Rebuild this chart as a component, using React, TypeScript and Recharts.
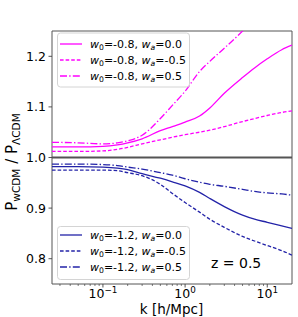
import React from "react";
import { LineChart, Line, XAxis, YAxis, ReferenceLine, ReferenceArea } from "recharts";

// wavenumber grid [h/Mpc]
const kValues = [0.024, 0.05, 0.1, 0.15, 0.2, 0.3, 0.5, 0.7, 1, 1.5, 2, 3, 5, 7, 10, 15, 20];

// P_wCDM / P_LCDM at z = 0.5
const ratioW08Wa00 = [1.021, 1.021, 1.022, 1.025, 1.029, 1.037, 1.053, 1.061, 1.07, 1.082, 1.098, 1.127, 1.158, 1.177, 1.195, 1.213, 1.222];
const ratioW08WaM05 = [1.012, 1.012, 1.013, 1.016, 1.02, 1.027, 1.035, 1.04, 1.045, 1.05, 1.054, 1.061, 1.071, 1.077, 1.083, 1.089, 1.092];
const ratioW08Wa05 = [1.03, 1.029, 1.027, 1.029, 1.033, 1.044, 1.077, 1.103, 1.131, 1.17, 1.19, 1.216, 1.25, 1.275, 1.3, 1.33, 1.35];
const ratioW12Wa00 = [0.982, 0.982, 0.981, 0.979, 0.976, 0.968, 0.959, 0.952, 0.944, 0.931, 0.919, 0.903, 0.886, 0.878, 0.872, 0.865, 0.86];
const ratioW12WaM05 = [0.975, 0.975, 0.975, 0.974, 0.97, 0.964, 0.947, 0.929, 0.911, 0.892, 0.878, 0.862, 0.844, 0.835, 0.826, 0.816, 0.807];
const ratioW12Wa05 = [0.987, 0.987, 0.986, 0.984, 0.981, 0.977, 0.97, 0.965, 0.958, 0.951, 0.947, 0.943, 0.937, 0.933, 0.93, 0.928, 0.9255];

const w0Upper = "-0.8";
const w0Lower = "-1.2";
const waValues = ["0.0", "-0.5", "0.5"];
const redshiftLabel = "z = 0.5";

const yTicks = [0.8, 0.9, 1.0, 1.1, 1.2];
const xMajorTicks = [0.1, 1, 10];
const xMajorExponents = ["\u22121", "0", "1"];
const xMinorTicks = [
  0.03, 0.04, 0.05, 0.06, 0.07, 0.08, 0.09,
  0.2, 0.3, 0.4, 0.5, 0.6, 0.7, 0.8, 0.9,
  2, 3, 4, 5, 6, 7, 8, 9,
];

const MAGENTA = "#ff00ff";
const BLUE = "#2323a8";
const AXIS = "#444";
const FONT = '"DejaVu Sans", sans-serif';
const DASH = "3.6 2";
const DASHDOT = "7 2.2 1.4 2.2";

const data = kValues.map((k, i) => ({
  k,
  m0: ratioW08Wa00[i],
  m1: ratioW08WaM05[i],
  m2: ratioW08Wa05[i],
  b0: ratioW12Wa00[i],
  b1: ratioW12WaM05[i],
  b2: ratioW12Wa05[i],
}));

const upperSeries = [
  { key: "m0", dash: undefined, wa: waValues[0] },
  { key: "m1", dash: DASH, wa: waValues[1] },
  { key: "m2", dash: DASHDOT, wa: waValues[2] },
];
const lowerSeries = [
  { key: "b0", dash: undefined, wa: waValues[0] },
  { key: "b1", dash: DASH, wa: waValues[1] },
  { key: "b2", dash: DASHDOT, wa: waValues[2] },
];

const renderXTick = (props: any) => {
  const { x, y, payload } = props;
  const i = xMajorTicks.indexOf(payload.value);
  const major = i >= 0;
  return (
    <g>
      <line x1={x} x2={x} y1={y} y2={y + (major ? 3.5 : 2)} stroke={AXIS} strokeWidth={major ? 0.9 : 0.7} />
      {major && (
        <text x={x} y={y + 13.5} textAnchor="middle" fontSize={12.5} fontFamily={FONT} fill="#000">
          10
          <tspan dy={-5} fontSize={8.8}>{xMajorExponents[i]}</tspan>
        </text>
      )}
    </g>
  );
};

const renderYTick = (props: any) => {
  const { x, y, payload } = props;
  return (
    <g>
      <line x1={x} x2={x - 3.5} y1={y} y2={y} stroke={AXIS} strokeWidth={0.9} />
      <text x={x - 6} y={y + 4.5} textAnchor="end" fontSize={12.5} fontFamily={FONT} fill="#000">
        {payload.value.toFixed(1)}
      </text>
    </g>
  );
};

const renderXLabel = () => (
  <text x={171.5} y={313.5} textAnchor="middle" fontSize={13.5} fontFamily={FONT} fill="#000">
    k [h/Mpc]
  </text>
);

const renderYLabel = () => (
  <text
    x={17}
    y={162}
    textAnchor="middle"
    fontSize={15}
    fontFamily={FONT}
    fill="#000"
    transform="rotate(-90, 17, 162)"
  >
    P
    <tspan dy={3} fontSize={10.5}>wCDM</tspan>
    <tspan dy={-3}> / P</tspan>
    <tspan dy={3} fontSize={10.5}>ΛCDM</tspan>
  </text>
);

function LegendBox({ top, height, rowY, color, w0, series }: any) {
  return (
    <g>
      <rect x={57.5} y={top} width={132} height={height} rx={3} fill="#fff" fillOpacity={0.8} stroke="#d4d4d4" strokeWidth={1} />
      {series.map((s: any, i: number) => (
        <g key={s.key}>
          <line x1={60} x2={82} y1={rowY[i]} y2={rowY[i]} stroke={color} strokeWidth={1.3} strokeDasharray={s.dash} />
          <text x={90} y={rowY[i] + 4} fontSize={11} fontFamily={FONT} fill="#000">
            <tspan fontStyle="italic">w</tspan>
            <tspan dy={2} fontSize={7.7}>0</tspan>
            <tspan dy={-2}>{"=" + w0 + ", "}</tspan>
            <tspan fontStyle="italic">w</tspan>
            <tspan dy={2} fontSize={7.7} fontStyle="italic">a</tspan>
            <tspan dy={-2}>{"=" + s.wa}</tspan>
          </text>
        </g>
      ))}
    </g>
  );
}

export default function App() {
  return (
    <div style={{ position: "absolute", left: 0, top: 0, width: 298, height: 317, background: "#fff" }}>
      <LineChart width={298} height={317} data={data} margin={{ top: 31, right: 6, bottom: 0, left: 0 }}>
        <XAxis
          dataKey="k"
          type="number"
          scale="log"
          domain={[0.024, 20]}
          allowDataOverflow
          ticks={[...xMinorTicks, ...xMajorTicks].sort((a, b) => a - b)}
          interval={0}
          height={33}
          tickSize={0}
          tickMargin={0}
          tickLine={false}
          axisLine={false}
          tick={renderXTick}
          label={renderXLabel}
        />
        <YAxis
          type="number"
          domain={[0.75, 1.25]}
          allowDataOverflow
          ticks={yTicks}
          interval={0}
          width={52}
          tickSize={0}
          tickMargin={0}
          tickLine={false}
          axisLine={false}
          tick={renderYTick}
          label={renderYLabel}
        />
        <ReferenceLine y={1} stroke="#555" strokeWidth={2} />
        {upperSeries.map((s) => (
          <Line
            key={s.key}
            dataKey={s.key}
            type="monotone"
            stroke={MAGENTA}
            strokeWidth={1.3}
            strokeDasharray={s.dash}
            dot={false}
            isAnimationActive={false}
          />
        ))}
        {lowerSeries.map((s) => (
          <Line
            key={s.key}
            dataKey={s.key}
            type="monotone"
            stroke={BLUE}
            strokeWidth={1.3}
            strokeDasharray={s.dash}
            dot={false}
            isAnimationActive={false}
          />
        ))}
        <ReferenceArea x1={0.024} x2={20} y1={0.75} y2={1.25} fill="none" stroke="#555" strokeWidth={1} ifOverflow="visible" />
      </LineChart>
      <svg width={298} height={317} style={{ position: "absolute", left: 0, top: 0, pointerEvents: "none" }}>
        <LegendBox top={33} height={54} rowY={[44, 60, 76]} color={MAGENTA} w0={w0Upper} series={upperSeries} />
        <LegendBox top={226.5} height={53} rowY={[235, 251, 267]} color={BLUE} w0={w0Lower} series={lowerSeries} />
        <text x={211} y={268} fontSize={14} fontFamily={FONT} fill="#000">
          {redshiftLabel}
        </text>
      </svg>
    </div>
  );
}
